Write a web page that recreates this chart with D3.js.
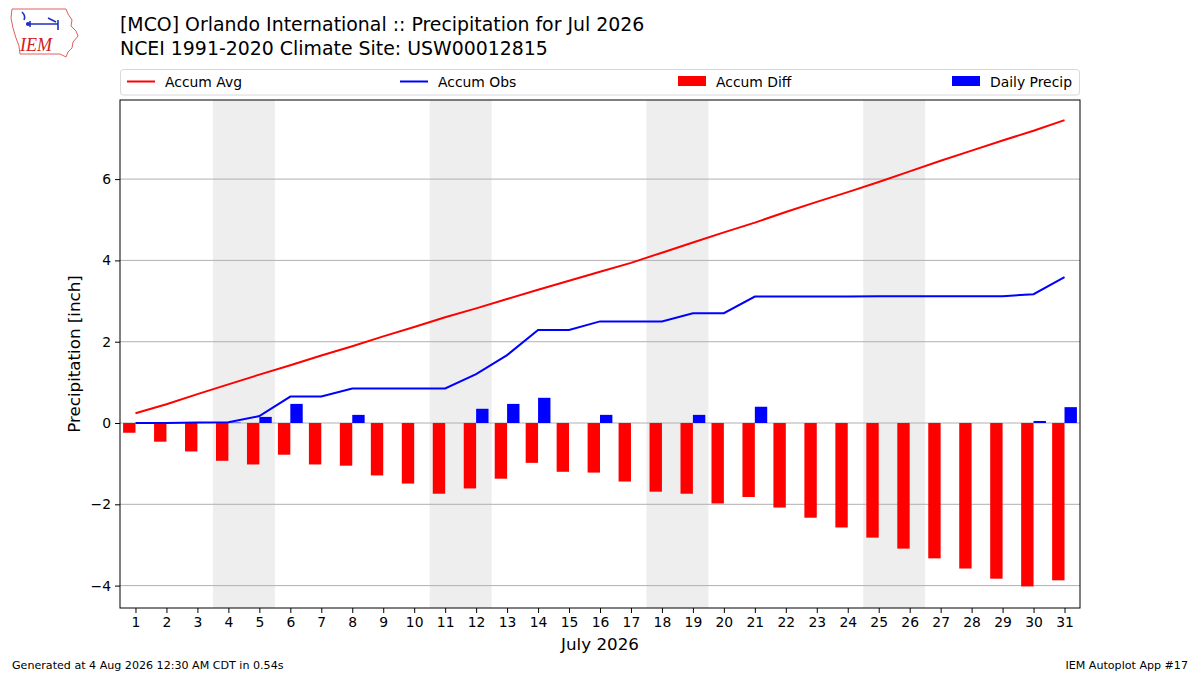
<!DOCTYPE html>
<html>
<head>
<meta charset="utf-8">
<script src="https://cdn.jsdelivr.net/npm/d3@7/dist/d3.min.js"></script>
<style>
  html, body { margin: 0; padding: 0; background: #fff; }
  svg { display: block; font-family: "DejaVu Sans", sans-serif; }
</style>
</head>
<body>
<svg id="chart" width="1200" height="675"></svg>
<script>
// ---- data ----
const days = d3.range(1, 32);
const dayLabels = days.map(String);
const accumAvg = [0.24,0.46,0.71,0.95,1.19,1.42,1.66,1.89,2.13,2.36,2.60,2.82,3.05,3.28,3.50,3.72,3.94,4.19,4.44,4.69,4.93,5.19,5.44,5.68,5.93,6.19,6.45,6.70,6.95,7.19,7.45];
const accumObs = [0.00,0.00,0.01,0.02,0.17,0.65,0.65,0.85,0.85,0.85,0.85,1.20,1.67,2.29,2.29,2.50,2.50,2.50,2.70,2.70,3.11,3.11,3.11,3.11,3.12,3.12,3.12,3.12,3.12,3.17,3.59];
const accumDiff = [-0.24,-0.46,-0.70,-0.93,-1.02,-0.78,-1.02,-1.05,-1.29,-1.49,-1.74,-1.61,-1.37,-0.98,-1.20,-1.22,-1.44,-1.69,-1.74,-1.98,-1.82,-2.08,-2.33,-2.57,-2.82,-3.09,-3.33,-3.58,-3.83,-4.02,-3.87];
const dailyPrecip = [0,0,0.01,0.01,0.15,0.47,0,0.20,0,0,0,0.35,0.47,0.62,0,0.20,0,0,0.20,0,0.40,0,0,0,0,0,0,0,0,0.05,0.39];
const weekends = [[4,5],[11,12],[18,19],[25,26]];
const yTicks = [-4,-2,0,2,4,6];
const legendItems = [
  {label: "Accum Avg", type: "line", color: "#ff0000"},
  {label: "Accum Obs", type: "line", color: "#0000ff"},
  {label: "Accum Diff", type: "rect", color: "#ff0000"},
  {label: "Daily Precip", type: "rect", color: "#0000ff"}
];
const titleLines = ["[MCO] Orlando International :: Precipitation for Jul 2026", "NCEI 1991-2020 Climate Site: USW00012815"];

// ---- layout ----
const svg = d3.select("#chart");
const L = 120, R = 1080, T = 100, B = 608;
const x = d3.scaleLinear().domain([0.5, 31.5]).range([L, R]);
const y = d3.scaleLinear().domain([-4.551, 7.946]).range([B, T]);
const barW = 0.4;

// weekend shading
svg.append("g").selectAll("rect").data(weekends).join("rect")
  .attr("x", d => x(d[0] - 0.5)).attr("width", d => x(d[1] + 0.5) - x(d[0] - 0.5))
  .attr("y", T).attr("height", B - T).attr("fill", "#eeeeee");

// grid
svg.append("g").selectAll("line").data(yTicks).join("line")
  .attr("x1", L).attr("x2", R).attr("y1", d => y(d)).attr("y2", d => y(d))
  .attr("stroke", "#b0b0b0").attr("stroke-width", 1);

// diff bars
svg.append("g").selectAll("rect").data(days).join("rect")
  .attr("x", d => x(d - barW)).attr("width", x(barW) - x(0))
  .attr("y", (d, i) => y(Math.max(0, accumDiff[i])))
  .attr("height", (d, i) => Math.abs(y(accumDiff[i]) - y(0)))
  .attr("fill", "#ff0000");

// daily precip bars
svg.append("g").selectAll("rect").data(days).join("rect")
  .attr("x", d => x(d)).attr("width", x(barW) - x(0))
  .attr("y", (d, i) => y(dailyPrecip[i]))
  .attr("height", (d, i) => y(0) - y(dailyPrecip[i]))
  .attr("fill", "#0000ff");

// lines
const line = arr => d3.line().x((d, i) => x(days[i])).y(d => y(d))(arr);
svg.append("path").attr("d", line(accumAvg)).attr("fill", "none")
  .attr("stroke", "#ff0000").attr("stroke-width", 2);
svg.append("path").attr("d", line(accumObs)).attr("fill", "none")
  .attr("stroke", "#0000ff").attr("stroke-width", 2);

// frame
svg.append("rect").attr("x", L).attr("y", T).attr("width", R - L).attr("height", B - T)
  .attr("fill", "none").attr("stroke", "#000").attr("stroke-width", 1);

// axes
const xAxis = d3.axisBottom(x).tickValues(days).tickFormat((d, i) => dayLabels[i]).tickSize(5).tickPadding(4);
const gx = svg.append("g").attr("transform", `translate(0,${B})`).call(xAxis);
gx.select(".domain").remove();
gx.selectAll("text").attr("font-size", 13.9).attr("font-family", "DejaVu Sans").attr("fill", "#000");
gx.selectAll("line").attr("stroke", "#000");

const yAxis = d3.axisLeft(y).tickValues(yTicks).tickFormat(d => d < 0 ? "\u2212" + Math.abs(d) : String(d)).tickSize(5).tickPadding(4);
const gy = svg.append("g").attr("transform", `translate(${L},0)`).call(yAxis);
gy.select(".domain").remove();
gy.selectAll("text").attr("font-size", 13.9).attr("font-family", "DejaVu Sans").attr("fill", "#000");
gy.selectAll("line").attr("stroke", "#000");

// axis labels
svg.append("text").attr("x", (L + R) / 2).attr("y", 650).attr("text-anchor", "middle")
  .attr("font-size", 16.7).text("July 2026");
svg.append("text").attr("transform", `translate(80,${(T + B) / 2}) rotate(-90)`)
  .attr("text-anchor", "middle").attr("font-size", 16.7).text("Precipitation [inch]");

// title
svg.append("g").selectAll("text").data(titleLines).join("text")
  .attr("x", 120).attr("y", (d, i) => 31 + i * 24).attr("font-size", 18.9).text(d => d);

// legend
const lg = svg.append("g");
lg.append("rect").attr("x", 120.5).attr("y", 69.5).attr("width", 959).attr("height", 25.5)
  .attr("rx", 3).attr("fill", "#fff").attr("stroke", "#d8d8d8").attr("stroke-width", 1);
const legendX = [127, 400, 678, 952];
legendItems.forEach((it, i) => {
  const gx0 = legendX[i];
  if (it.type === "line") {
    lg.append("line").attr("x1", gx0).attr("x2", gx0 + 28).attr("y1", 81.5).attr("y2", 81.5)
      .attr("stroke", it.color).attr("stroke-width", 2);
  } else {
    lg.append("rect").attr("x", gx0).attr("y", 76).attr("width", 28).attr("height", 10).attr("fill", it.color);
  }
  lg.append("text").attr("x", gx0 + 38).attr("y", 86.5).attr("font-size", 13.9).text(it.label);
});

// footer
svg.append("text").attr("x", 12).attr("y", 669).attr("font-size", 11.1).text("Generated at 4 Aug 2026 12:30 AM CDT in 0.54s");
svg.append("text").attr("x", 1188).attr("y", 669).attr("text-anchor", "end").attr("font-size", 11.1).text("IEM Autoplot App #17");

// logo (simple IEM emblem)
const logo = svg.append("g");
logo.append("path")
  .attr("d", "M12,9 L66,9 L68,14 L72,20 L71,26 L76,31 L78,36 L73,42 L72,48 L68,52 L66,57 L60,54 L20,54 L19,46 L16,38 L13,28 L11,18 Z")
  .attr("fill", "#fff").attr("stroke", "#e06060").attr("stroke-width", 1);
logo.append("path").attr("d", "M26,24 L58,24 M30,21 L30,27 M58,20 L58,30 M48,18 L56,22 M22,12 Q26,16 24,20")
  .attr("stroke", "#2030c0").attr("stroke-width", 1.6).attr("fill", "none");
logo.append("circle").attr("cx", 28).attr("cy", 24).attr("r", 2).attr("fill", "#2030c0");
logo.append("text").attr("x", 20).attr("y", 51).attr("font-family", "Liberation Serif, serif")
  .attr("font-style", "italic").attr("font-size", 18).attr("fill", "#d02020").text("IEM");
</script>
</body>
</html>
